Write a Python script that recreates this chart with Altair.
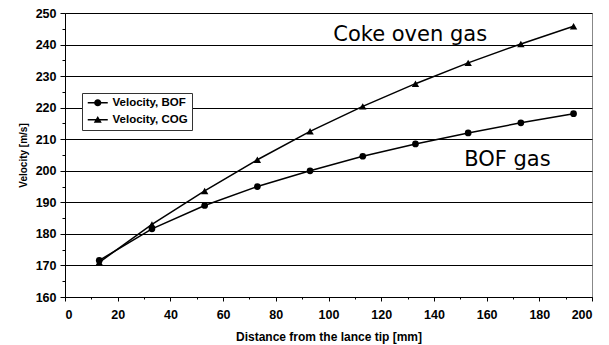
import altair as alt
import pandas as pd

# ---- data ----
distance = [13, 33, 53, 73, 93, 113, 133, 153, 173, 193]
vel_bof = [171.6, 181.6, 189.0, 195.0, 200.0, 204.6, 208.5, 212.0, 215.2, 218.1]
vel_cog = [171.0, 183.0, 193.6, 203.5, 212.5, 220.4, 227.6, 234.2, 240.2, 245.8]
series_names = ["Velocity, BOF", "Velocity, COG"]

ann_text = ["Coke oven gas", "BOF gas"]
ann_x = [101.8, 151.5]
ann_y = [241.2, 201.6]

x_ticks = list(range(0, 201, 10))
y_ticks = list(range(160, 251, 5))

rows = []
for d, b in zip(distance, vel_bof):
    rows.append({"series": series_names[0], "distance": d, "velocity": b})
for d, c in zip(distance, vel_cog):
    rows.append({"series": series_names[1], "distance": d, "velocity": c})
df = pd.DataFrame(rows)
ann_df = pd.DataFrame({"label": ann_text, "distance": ann_x, "velocity": ann_y})

FONT = "Arial, Liberation Sans"

x_enc = alt.X(
    "distance:Q",
    scale=alt.Scale(domain=[0, 200], nice=False, zero=False),
    axis=alt.Axis(
        title="Distance from the lance tip [mm]",
        values=x_ticks,
        labelExpr="datum.value % 20 === 0 ? datum.label : ''",
        tickSize={"condition": {"test": "datum.value % 20 !== 0", "value": 2}, "value": 4},
        grid=False,
        domainColor="black",
        tickColor="black",
        labelFont=FONT,
        labelFontWeight="bold",
        labelFontSize=12.5,
        labelColor="black",
        labelPadding=7,
        titleFont=FONT,
        titleFontWeight="bold",
        titleFontSize=12,
        titleColor="black",
        titlePadding=11,
    ),
)
y_enc = alt.Y(
    "velocity:Q",
    scale=alt.Scale(domain=[160, 250], nice=False, zero=False),
    axis=alt.Axis(
        title="Velocity [m/s]",
        values=y_ticks,
        labelExpr="datum.value % 10 === 0 ? datum.label : ''",
        tickSize={"condition": {"test": "datum.value % 10 !== 0", "value": 3}, "value": 5},
        grid=True,
        gridColor="black",
        gridWidth=1,
        gridOpacity={"condition": {"test": "datum.value % 10 !== 0", "value": 0}, "value": 1},
        domainColor="black",
        tickColor="black",
        labelFont=FONT,
        labelFontWeight="bold",
        labelFontSize=12.5,
        labelColor="black",
        labelPadding=4,
        titleFont=FONT,
        titleFontWeight="bold",
        titleFontSize=10,
        titleColor="black",
        titlePadding=7,
    ),
)

base = alt.Chart(df)

lines = base.mark_line(color="black", strokeWidth=1.5).encode(
    x=x_enc, y=y_enc, detail="series:N"
)
pts_bof = base.transform_filter(alt.datum.series == series_names[0]).mark_point(
    shape="circle", filled=True, color="black", size=45, opacity=1
).encode(x=x_enc, y=y_enc)
pts_cog = base.transform_filter(alt.datum.series == series_names[1]).mark_point(
    shape="triangle-up", filled=True, color="black", size=55, opacity=1
).encode(x=x_enc, y=y_enc)

circle_path = ("M-0.9,0A0.9,0.9,0,1,1,0.9,0A0.9,0.9,0,1,1,-0.9,0Z "
               "M-2.5,-0.2L2.5,-0.2L2.5,0.2L-2.5,0.2Z")
tri_path = ("M0,-0.95L1,0.75L-1,0.75Z "
            "M-2.5,-0.2L2.5,-0.2L2.5,0.2L-2.5,0.2Z")

legend_layer = base.transform_filter("false").mark_point(
    filled=True, color="black", size=64, opacity=1
).encode(
    x=x_enc,
    y=y_enc,
    shape=alt.Shape(
        "series:N",
        scale=alt.Scale(domain=series_names, range=[circle_path, tri_path]),
        legend=alt.Legend(
            title=None,
            orient="none",
            legendX=17,
            legendY=80,
            symbolSize=64,
            symbolOffset=6,
            labelOffset=9,
            padding=4,
            rowPadding=4,
            strokeColor="#333333",
            fillColor="white",
            labelFont=FONT,
            labelFontWeight="bold",
            labelFontSize=11.5,
            labelColor="black",
            symbolFillColor="black",
            symbolStrokeWidth=0,
        ),
    ),
)

texts = alt.Chart(ann_df).mark_text(
    align="left", baseline="alphabetic", font="DejaVu Sans", fontSize=21, color="black"
).encode(x=x_enc, y=y_enc, text="label:N")

chart = alt.layer(lines, pts_bof, pts_cog, legend_layer, texts).properties(
    width=527,
    height=284,
    autosize=alt.AutoSizeParams(type="none"),
    padding={"left": 57, "top": 5, "right": 9, "bottom": 48},
    background="white",
).configure_view(stroke="#888888", strokeWidth=1)

chart.save("out.html", embed_options={"renderer": "svg", "actions": False})
